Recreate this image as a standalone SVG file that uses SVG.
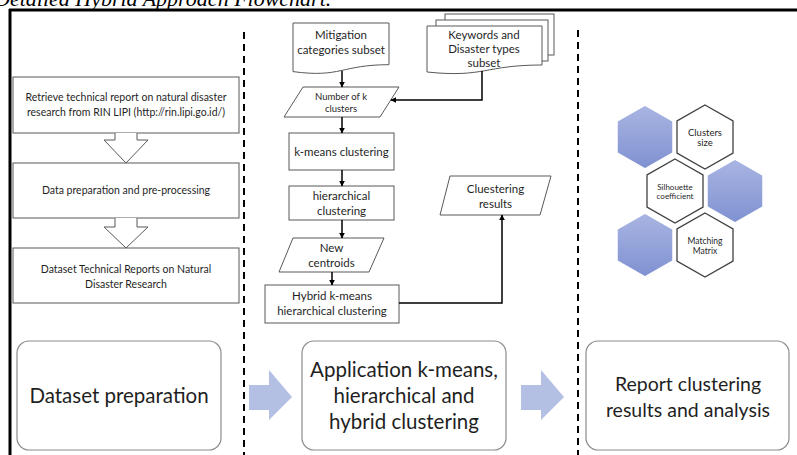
<svg xmlns="http://www.w3.org/2000/svg" width="797" height="455" viewBox="0 0 797 455">
<defs>
<style>
.t{font-family:Lato,"Open Sans","Liberation Sans",sans-serif;fill:#1f1f1f;text-anchor:middle}
.box{fill:#fff;stroke:#595959;stroke-width:1}
.rbox{fill:#fff;stroke:#8c8c8c;stroke-width:1.2}
.conn{fill:none;stroke:#000;stroke-width:1.5}
.dash{stroke:#000;stroke-width:2;stroke-dasharray:7,5}
.barrow{fill:#b3c0e3;stroke:none}
.hb{fill:url(#hg);stroke:#fff;stroke-width:1.5}
.hw{fill:#fff;stroke:#404040;stroke-width:1.3}
</style>
<linearGradient id="hg" x1="0" y1="0" x2="0" y2="1">
<stop offset="0" stop-color="#a9b5e2"/>
<stop offset="1" stop-color="#7f91d1"/>
</linearGradient>
<marker id="ah" viewBox="0 0 10 10" refX="9" refY="5" markerWidth="4" markerHeight="4" orient="auto">
<path d="M0,0 L10,5 L0,10 z" fill="#000"/>
</marker>
</defs>
<rect x="0" y="0" width="797" height="455" fill="#fff"/>
<text x="-6" y="6" font-family="'Liberation Serif',serif" font-style="italic" font-size="22" fill="#000">Detailed Hybrid Approach Flowchart.</text>
<g id="frame">
<line x1="9" y1="10" x2="797" y2="10" stroke="#000" stroke-width="3"/>
<line x1="10" y1="9" x2="10" y2="455" stroke="#000" stroke-width="3"/>
<line class="dash" x1="244" y1="32" x2="244" y2="455"/>
<line class="dash" x1="578" y1="30" x2="578" y2="455"/>
</g>
<g id="retrieve">
<rect class="box" x="13" y="77" width="226" height="56"/>
<text class="t" font-size="10.5"><tspan x="126" y="101">Retrieve technical report on natural disaster</tspan><tspan x="126" y="116">research from RIN LIPI (http://rin.lipi.go.id/)</tspan></text>
</g>
<g id="preprocess">
<rect class="box" x="13" y="163" width="226" height="55"/>
<text class="t" font-size="10.5" x="126" y="194">Data preparation and pre-processing</text>
</g>
<g id="dataset">
<rect class="box" x="13" y="248" width="226" height="55"/>
<text class="t" font-size="10.5"><tspan x="126" y="273">Dataset Technical Reports on Natural</tspan><tspan x="126" y="288">Disaster Research</tspan></text>
</g>
<g id="mitigation">
<path class="box" d="M293,23 H389 V64.7 C341,64.7 341,78.1 293,71.6 Z"/>
<text class="t" font-size="11.5"><tspan x="341" y="39">Mitigation</tspan><tspan x="341" y="54">categories subset</tspan></text>
</g>
<g id="keywords">
<rect class="box" x="445" y="14" width="109" height="41"/>
<rect class="box" x="436" y="20" width="112" height="41"/>
<path class="box" d="M427,26 H542 V65 C484.5,65 484.5,78 427,72 Z"/>
<text class="t" font-size="11.5"><tspan x="484" y="39">Keywords and</tspan><tspan x="484" y="53">Disaster types</tspan><tspan x="484" y="67">subset</tspan></text>
</g>
<g id="numk">
<polygon class="box" points="303,87 399,87 380,117 284,117"/>
<text class="t" font-size="9.5"><tspan x="341" y="100">Number of k</tspan><tspan x="341" y="112">clusters</tspan></text>
</g>
<g id="kmeans">
<rect class="box" x="289" y="133" width="105" height="37"/>
<text class="t" font-size="11.5" x="341.5" y="156">k-means clustering</text>
</g>
<g id="hier">
<rect class="box" x="289" y="186" width="105" height="34"/>
<text class="t" font-size="11.5"><tspan x="341.5" y="200">hierarchical</tspan><tspan x="341.5" y="215">clustering</tspan></text>
</g>
<g id="centroids">
<polygon class="box" points="293,238 384,238 369,272 279,272"/>
<text class="t" font-size="11.5"><tspan x="331.5" y="252">New</tspan><tspan x="331.5" y="267">centroids</tspan></text>
</g>
<g id="hybrid">
<rect class="box" x="265" y="285" width="134" height="38"/>
<text class="t" font-size="11.5"><tspan x="332" y="300">Hybrid k-means</tspan><tspan x="332" y="315">hierarchical clustering</tspan></text>
</g>
<g id="results">
<polygon class="box" points="450,176 551,176 540,215 440,215"/>
<text class="t" font-size="11.5"><tspan x="495.5" y="193">Cluestering</tspan><tspan x="495.5" y="208">results</tspan></text>
</g>
<g id="connectors">
<path class="box" d="M115,133 V140 H104 L126,163 L148,140 H137 V133"/>
<path class="box" d="M115,218 V227 H104 L126,248 L148,227 H137 V218"/>
<line class="conn" x1="342" y1="71" x2="342" y2="87" marker-end="url(#ah)"/>
<polyline class="conn" points="482,71 482,100 391,100" marker-end="url(#ah)"/>
<line class="conn" x1="342" y1="117" x2="342" y2="133" marker-end="url(#ah)"/>
<line class="conn" x1="342" y1="170" x2="342" y2="186" marker-end="url(#ah)"/>
<line class="conn" x1="342" y1="220" x2="342" y2="238" marker-end="url(#ah)"/>
<line class="conn" x1="332" y1="272" x2="332" y2="285" marker-end="url(#ah)"/>
<polyline class="conn" points="399,303 502,303 502,215" marker-end="url(#ah)"/>
<polygon class="barrow" points="249,385 269,385 269,370 292,397 269,420 269,410 249,410"/>
<polygon class="barrow" points="521,385 541,385 541,370 564,397 541,420 541,410 521,410"/>
</g>
<g id="hexes">
<polygon class="hb" points="645,105 673,121 673,153 645,169 617,153 617,121"/>
<polygon class="hw" points="705,105 733,121 733,153 705,169 677,153 677,121"/>
<polygon class="hw" points="675,159 703,175 703,207 675,223 647,207 647,175"/>
<polygon class="hb" points="735,159 763,175 763,207 735,223 707,207 707,175"/>
<polygon class="hb" points="645,213 673,229 673,261 645,277 617,261 617,229"/>
<polygon class="hw" points="705,213 733,229 733,261 705,277 677,261 677,229"/>
<text class="t" font-size="9.5"><tspan x="705" y="136">Clusters</tspan><tspan x="705" y="146">size</tspan></text>
<text class="t" font-size="8"><tspan x="675" y="190">Silhouette</tspan><tspan x="675" y="199">coefficient</tspan></text>
<text class="t" font-size="8.5"><tspan x="705" y="244">Matching</tspan><tspan x="705" y="254">Matrix</tspan></text>
</g>
<g id="prep">
<rect class="rbox" x="17" y="341" width="204" height="109" rx="12"/>
<text class="t" font-size="20.5" x="119" y="403">Dataset preparation</text>
</g>
<g id="application">
<rect class="rbox" x="302" y="341" width="204" height="109" rx="12"/>
<text class="t" font-size="20.5"><tspan x="404" y="377">Application k-means,</tspan><tspan x="404" y="403">hierarchical and</tspan><tspan x="404" y="429">hybrid clustering</tspan></text>
</g>
<g id="report">
<rect class="rbox" x="586" y="341" width="203" height="109" rx="12"/>
<text class="t" font-size="19.5"><tspan x="688" y="391">Report clustering</tspan><tspan x="688" y="417">results and analysis</tspan></text>
</g>
</svg>
